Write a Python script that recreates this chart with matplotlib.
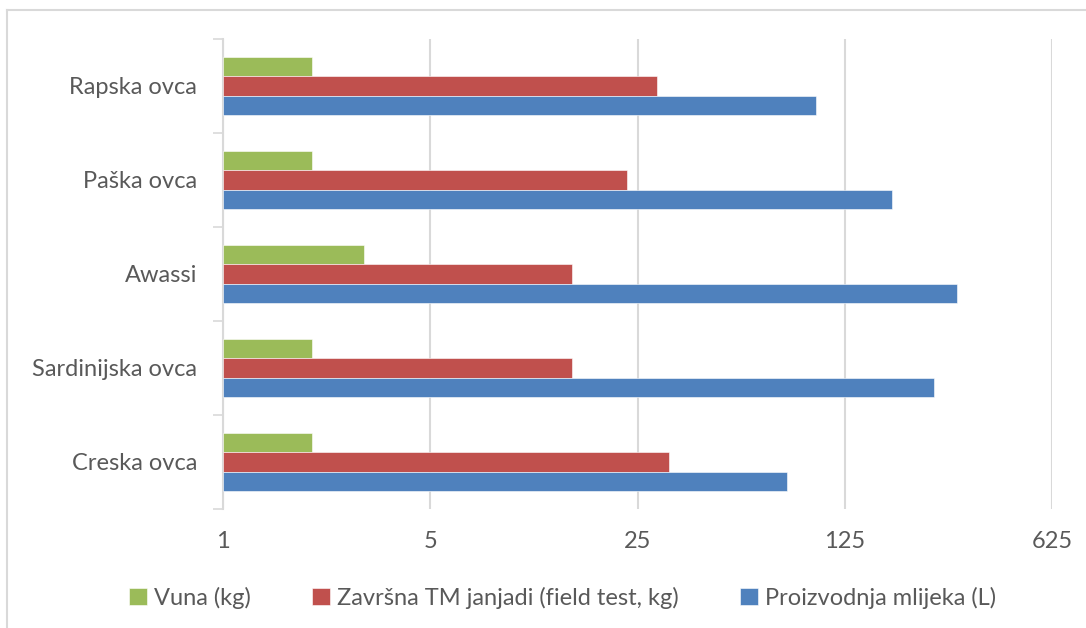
import numpy as np
import matplotlib
matplotlib.use("Agg")
import matplotlib.pyplot as plt
from matplotlib.ticker import FixedLocator, NullLocator

breeds = ["Rapska ovca", "Paška ovca", "Awassi", "Sardinijska ovca", "Creska ovca"]
series_names = ["Vuna (kg)", "Završna TM janjadi (field test, kg)", "Proizvodnja mlijeka (L)"]
vuna = [2, 2, 3, 2, 2]
zavrsna = [29, 23, 15, 15, 32]
mlijeko = [100, 180, 300, 250, 80]
colors = ["#9BBB59", "#C0504D", "#4F81BD"]
xticks = [1, 5, 25, 125, 625]

plt.rcParams["font.family"] = ["Lato", "DejaVu Sans"]
txt = "#595959"
grid = "#D9D9D9"

fig = plt.figure(figsize=(10.86, 6.28), dpi=100)
ax = fig.add_axes([223 / 1086, 1 - 509 / 628, (1052 - 223) / 1086, (509 - 39) / 628])

n = len(breeds)
y = np.arange(n)[::-1]  # first breed on top
h = 0.206
for i, (vals, name) in enumerate(zip([vuna, zavrsna, mlijeko], series_names)):
    off = (1 - i) * h
    # bars start at the axis origin (1 on the log scale)
    ax.barh(y + off, np.array(vals) - 1, height=h, left=1, color=colors[i],
            edgecolor="white", linewidth=0.4, label=name, zorder=3)

ax.set_xscale("log", base=5)
ax.set_xlim(1, 625)
ax.set_ylim(-0.5, n - 0.5)
ax.xaxis.set_major_locator(FixedLocator(xticks))
ax.xaxis.set_minor_locator(NullLocator())
ax.set_xticklabels([str(t) for t in xticks])
ax.grid(axis="x", color=grid, linewidth=1.5, zorder=0)

ax.set_yticks(y)
ax.set_yticklabels(breeds)
ax.yaxis.set_minor_locator(FixedLocator(np.arange(-0.5, n, 1)))
ax.tick_params(axis="y", which="major", length=0, pad=18.5, labelsize=17, labelcolor=txt)
ax.tick_params(axis="y", which="minor", length=7, width=1.2, color=grid)
ax.tick_params(axis="x", length=0, pad=16, labelsize=17, labelcolor=txt)

for s in ["top", "right", "bottom"]:
    ax.spines[s].set_visible(False)
ax.spines["left"].set_color(grid)
ax.spines["left"].set_linewidth(1.5)

handles, labels = ax.get_legend_handles_labels()
fig.legend(handles, labels, loc="center", bbox_to_anchor=(0.518, 1 - 598 / 628),
           ncol=3, frameon=False, fontsize=17, labelcolor=txt,
           handlelength=0.75, handleheight=0.75, handletextpad=0.3, columnspacing=2.6)

# chart border (partially cropped in the reference)
fig.add_artist(plt.Line2D([7 / 1086, 1], [1 - 10 / 628] * 2, color=grid, linewidth=1.5))
fig.add_artist(plt.Line2D([7 / 1086] * 2, [0, 1 - 10 / 628], color=grid, linewidth=1.5))

fig.savefig("out.png", dpi=100)
